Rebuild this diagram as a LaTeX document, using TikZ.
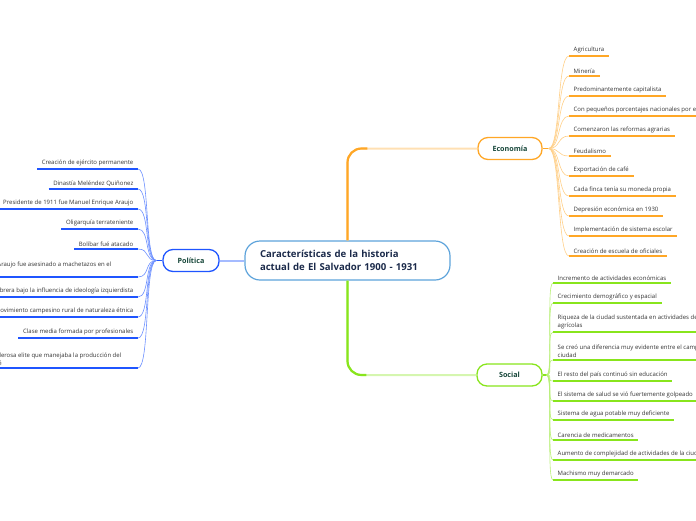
\documentclass[tikz,border=0pt]{standalone}
\usepackage{fontspec}
\setmainfont{Open Sans}
\usepackage{tikz}
\usetikzlibrary{positioning,calc}
\definecolor{mainblue}{HTML}{5DA3DB}
\definecolor{maintext}{HTML}{1B2A4A}
\definecolor{branchtext}{HTML}{17473A}
\definecolor{itemtext}{HTML}{333333}
\definecolor{polblue}{HTML}{1F55FF}
\definecolor{ecoorange}{HTML}{FFA726}
\definecolor{soclime}{HTML}{88E51C}

\begin{document}
\begin{tikzpicture}[x=1pt,y=-1pt,
  mainbox/.style={draw=mainblue,line width=1.2pt,rounded corners=15pt,fill=white,
    text=maintext,font=\fontsize{9.6}{12.5}\selectfont\bfseries,align=left,
    text width=175pt,inner xsep=15pt,minimum height=39pt},
  branch/.style={draw=#1,line width=1.3pt,rounded corners=10pt,fill=white,
    text=branchtext,font=\fontsize{7.2}{9}\selectfont\bfseries,minimum height=22pt},
  item/.style={font=\fontsize{6}{8.2}\selectfont,text=itemtext,align=left,
    inner xsep=4.5pt,inner ysep=2.5pt},
  under/.style={draw=#1,line width=1.4pt},
  twig/.style={draw=#1,line width=0.6pt}]
  \useasboundingbox (0,0) rectangle (696,520);

  % centre and the three branches
  \node[mainbox] (title) at (347.5,260.5) {Características de la historia\\actual de El Salvador 1900 - 1931};
  \node[branch=polblue,minimum width=56pt] (pol) at (191,260.5) {Política};
  \node[branch=ecoorange,minimum width=64pt] (eco) at (510,148.5) {Economía};
  \node[branch=soclime,minimum width=65pt] (soc) at (509.5,375) {Social};

  \draw[polblue!40,line width=2pt] (title.west) -- (pol.east);
  \draw[ecoorange!35,line width=2pt,rounded corners=14pt] (title.north) |- (eco.west);
  \draw[ecoorange,line width=2.2pt,rounded corners=14pt] (title.north) |- ([xshift=-110pt]eco.west);
  \draw[soclime!35,line width=2pt,rounded corners=14pt] (title.south) |- (soc.west);
  \draw[soclime,line width=2.2pt,rounded corners=14pt] (title.south) |- ([xshift=-110pt]soc.west);

  % hubs
  \coordinate (polhub) at ([xshift=-6pt]pol.west);
  \coordinate (ecohub) at ([xshift=6pt]eco.east);
  \coordinate (sochub) at ([xshift=4pt]soc.east);
  \draw[polblue,line width=1.3pt] (pol.west) -- (polhub);
  \draw[ecoorange,line width=1.3pt] (eco.east) -- (ecohub);
  \draw[soclime,line width=1.3pt] (soc.east) -- (sochub);

  % Economia
  \foreach \txt [count=\i] in {Agricultura, Minería, Predominantemente capitalista,
      Con pequeños porcentajes nacionales por el, Comenzaron las reformas agrarias,
      Feudalismo, Exportación de café, Cada finca tenía su moneda propia,
      Depresión económica en 1930, Implementación de sistema escolar,
      Creación de escuela de oficiales} {
    \node[item,anchor=south west] (eco\i) at (569,{36+20*\i}) {\txt};
    \draw[under=ecoorange] (eco\i.south west) -- (eco\i.south east);
    \draw[twig=ecoorange!55] (ecohub) .. controls +(12,0) and +(-12,0) .. (eco\i.south west);
  }

  % Social
  \foreach \yy/\txt [count=\i] in {283/Incremento de actividades económicas,
      303/Crecimiento demográfico y espacial,
      332/{Riqueza de la ciudad sustentada en actividades de\\agrícolas},
      360/{Se creó una diferencia muy evidente entre el campo y la\\ciudad},
      381/El resto del país continuó sin educación,
      401/El sistema de salud se vió fuertemente golpeado,
      420/Sistema de agua potable muy deficiente,
      440/Carencia de medicamentos,
      460/Aumento de complejidad de actividades de la ciudad,
      480/Machismo muy demarcado} {
    \node[item,anchor=south west] (soc\i) at (553,\yy) {\txt};
    \draw[under=soclime] (soc\i.south west) -- (soc\i.south east);
    \draw[twig=soclime!60] (sochub) .. controls +(7,0) and +(-7,0) .. (soc\i.south west);
  }

  % Politica
  \foreach \yy/\txt [count=\i] in {169/Creación de ejército permanente,
      189/Dinastía Meléndez Quiñonez,
      209/Presidente de 1911 fue Manuel Enrique Araujo,
      229/Oligarquía terrateniente,
      249/Bolíbar fué atacado,
      277/{\makebox[\dimexpr\width+22pt\relax][l]{Manuel Enrique Araujo fue asesinado a machetazos en el}\\\mbox{}},
      297/Clase obrera bajo la influencia de ideología izquierdista,
      317/Movimiento campesino rural de naturaleza étnica,
      338/Clase media formada por profesionales,
      368/{\makebox[\dimexpr\width+12pt\relax][l]{Poderosa elite que manejaba la producción del}\\café}} {
    \node[item,anchor=south east] (pol\i) at (138,\yy) {\txt};
    \draw[under=polblue] (pol\i.south west) -- (pol\i.south east);
    \draw[twig=polblue!65] (polhub) .. controls +(-12,0) and +(12,0) .. (pol\i.south east);
  }
\end{tikzpicture}
\end{document}
